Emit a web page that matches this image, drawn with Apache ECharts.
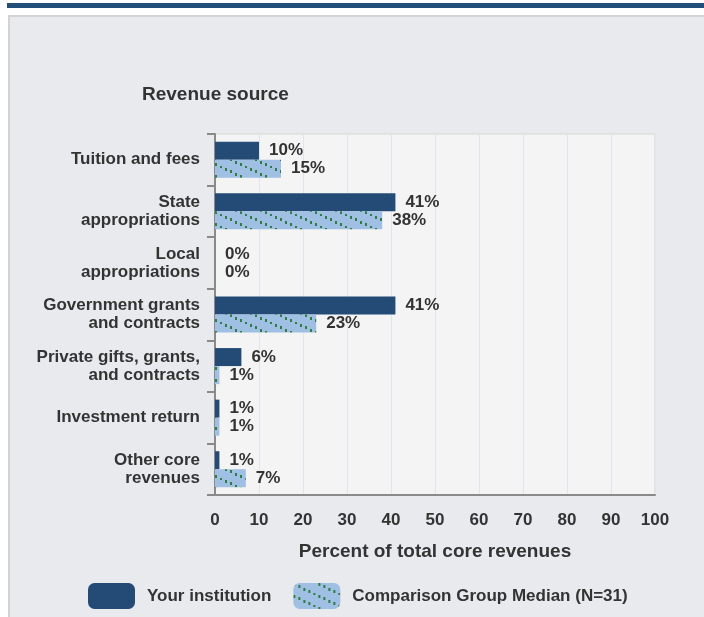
<!DOCTYPE html>
<html>
<head>
<meta charset="utf-8">
<script src="https://cdn.jsdelivr.net/npm/echarts@6/dist/echarts.min.js"></script>
<style>
html,body{margin:0;padding:0;background:#fff;}
#chart{width:704px;height:617px;}
</style>
</head>
<body>
<div id="chart"></div>
<script>
const categories = ['Tuition and fees', 'State\nappropriations', 'Local\nappropriations', 'Government grants\nand contracts', 'Private gifts, grants,\nand contracts', 'Investment return', 'Other core\nrevenues'];
const yourInstitution = [10, 41, 0, 41, 6, 1, 1];
const comparisonMedian = [15, 38, 0, 23, 1, 1, 7];
const xTicks = [0, 10, 20, 30, 40, 50, 60, 70, 80, 90, 100];

function makePattern() {
  const c = document.createElement('canvas');
  c.width = 25; c.height = 12;
  const ctx = c.getContext('2d');
  ctx.fillStyle = '#9fbfe3';
  ctx.fillRect(0, 0, 25, 12);
  ctx.fillStyle = '#2f7c47';
  for (let x = 0; x < 25; x += 5) {
    const y = Math.round(x * 12 / 25);
    ctx.fillRect(x, y, 2, 3);
  }
  return c;
}
const pattern = { image: makePattern(), repeat: 'repeat' };

const chart = echarts.init(document.getElementById('chart'), null, { renderer: 'canvas' });
const font = 'Arial, "Liberation Sans", sans-serif';
chart.setOption({
  backgroundColor: '#ffffff',
  animation: false,
  textStyle: { fontFamily: font },
  graphic: [
    { type: 'rect', z: -10, shape: { x: 7, y: 3, width: 697, height: 5 }, style: { fill: '#234e7b' } },
    { type: 'rect', z: -10, shape: { x: 9, y: 16, width: 700, height: 610 }, style: { fill: '#e9eaee', stroke: '#d3d3d3', lineWidth: 2 } },
    { type: 'text', left: 142, top: 85, style: { text: 'Revenue source', font: 'bold 19px ' + font, fill: '#333' } }
  ],
  grid: {
    left: 215, right: 49, top: 134, bottom: 122,
    show: true, backgroundColor: '#f4f4f4', borderColor: '#d6d6d6', borderWidth: 1
  },
  legend: {
    left: 88, top: 583, padding: 0,
    itemWidth: 47, itemHeight: 26, itemGap: 22,
    icon: 'roundRect',
    textStyle: { fontSize: 17, fontWeight: 'bold', color: '#333', fontFamily: font, padding: [0, 0, 0, 7] },
    data: ['Your institution', 'Comparison Group Median (N=31)']
  },
  xAxis: {
    type: 'value', min: 0, max: 100, interval: 10,
    name: 'Percent of total core revenues',
    nameLocation: 'middle', nameGap: 47,
    nameTextStyle: { fontSize: 19, fontWeight: 'bold', color: '#333', fontFamily: font },
    axisLine: { show: true, lineStyle: { color: '#8a8a8a', width: 2 } },
    axisTick: { show: false },
    axisLabel: { fontSize: 17, fontWeight: 'bold', color: '#333', margin: 17, fontFamily: font, formatter: v => xTicks.includes(v) ? String(v) : '' },
    splitLine: { show: true, lineStyle: { color: '#dde5ef', width: 1 } }
  },
  yAxis: {
    type: 'category', inverse: true, data: categories,
    axisLine: { show: true, lineStyle: { color: '#8a8a8a', width: 2 } },
    axisTick: { show: true, length: 8, lineStyle: { color: '#8a8a8a', width: 2 } },
    axisLabel: { fontSize: 17, fontWeight: 'bold', color: '#333', margin: 15, lineHeight: 18, align: 'right', fontFamily: font },
    splitLine: { show: false }
  },
  series: [
    {
      name: 'Your institution', type: 'bar', data: yourInstitution,
      barWidth: 18, barGap: '0%',
      itemStyle: { color: '#234b76' },
      label: { show: true, position: 'right', distance: 10, formatter: '{c}%', fontSize: 17, fontWeight: 'bold', color: '#333', fontFamily: font }
    },
    {
      name: 'Comparison Group Median (N=31)', type: 'bar', data: comparisonMedian,
      barWidth: 18, barGap: '0%',
      itemStyle: { color: pattern },
      label: { show: true, position: 'right', distance: 10, formatter: '{c}%', fontSize: 17, fontWeight: 'bold', color: '#333', fontFamily: font }
    }
  ]
});
</script>
</body>
</html>
